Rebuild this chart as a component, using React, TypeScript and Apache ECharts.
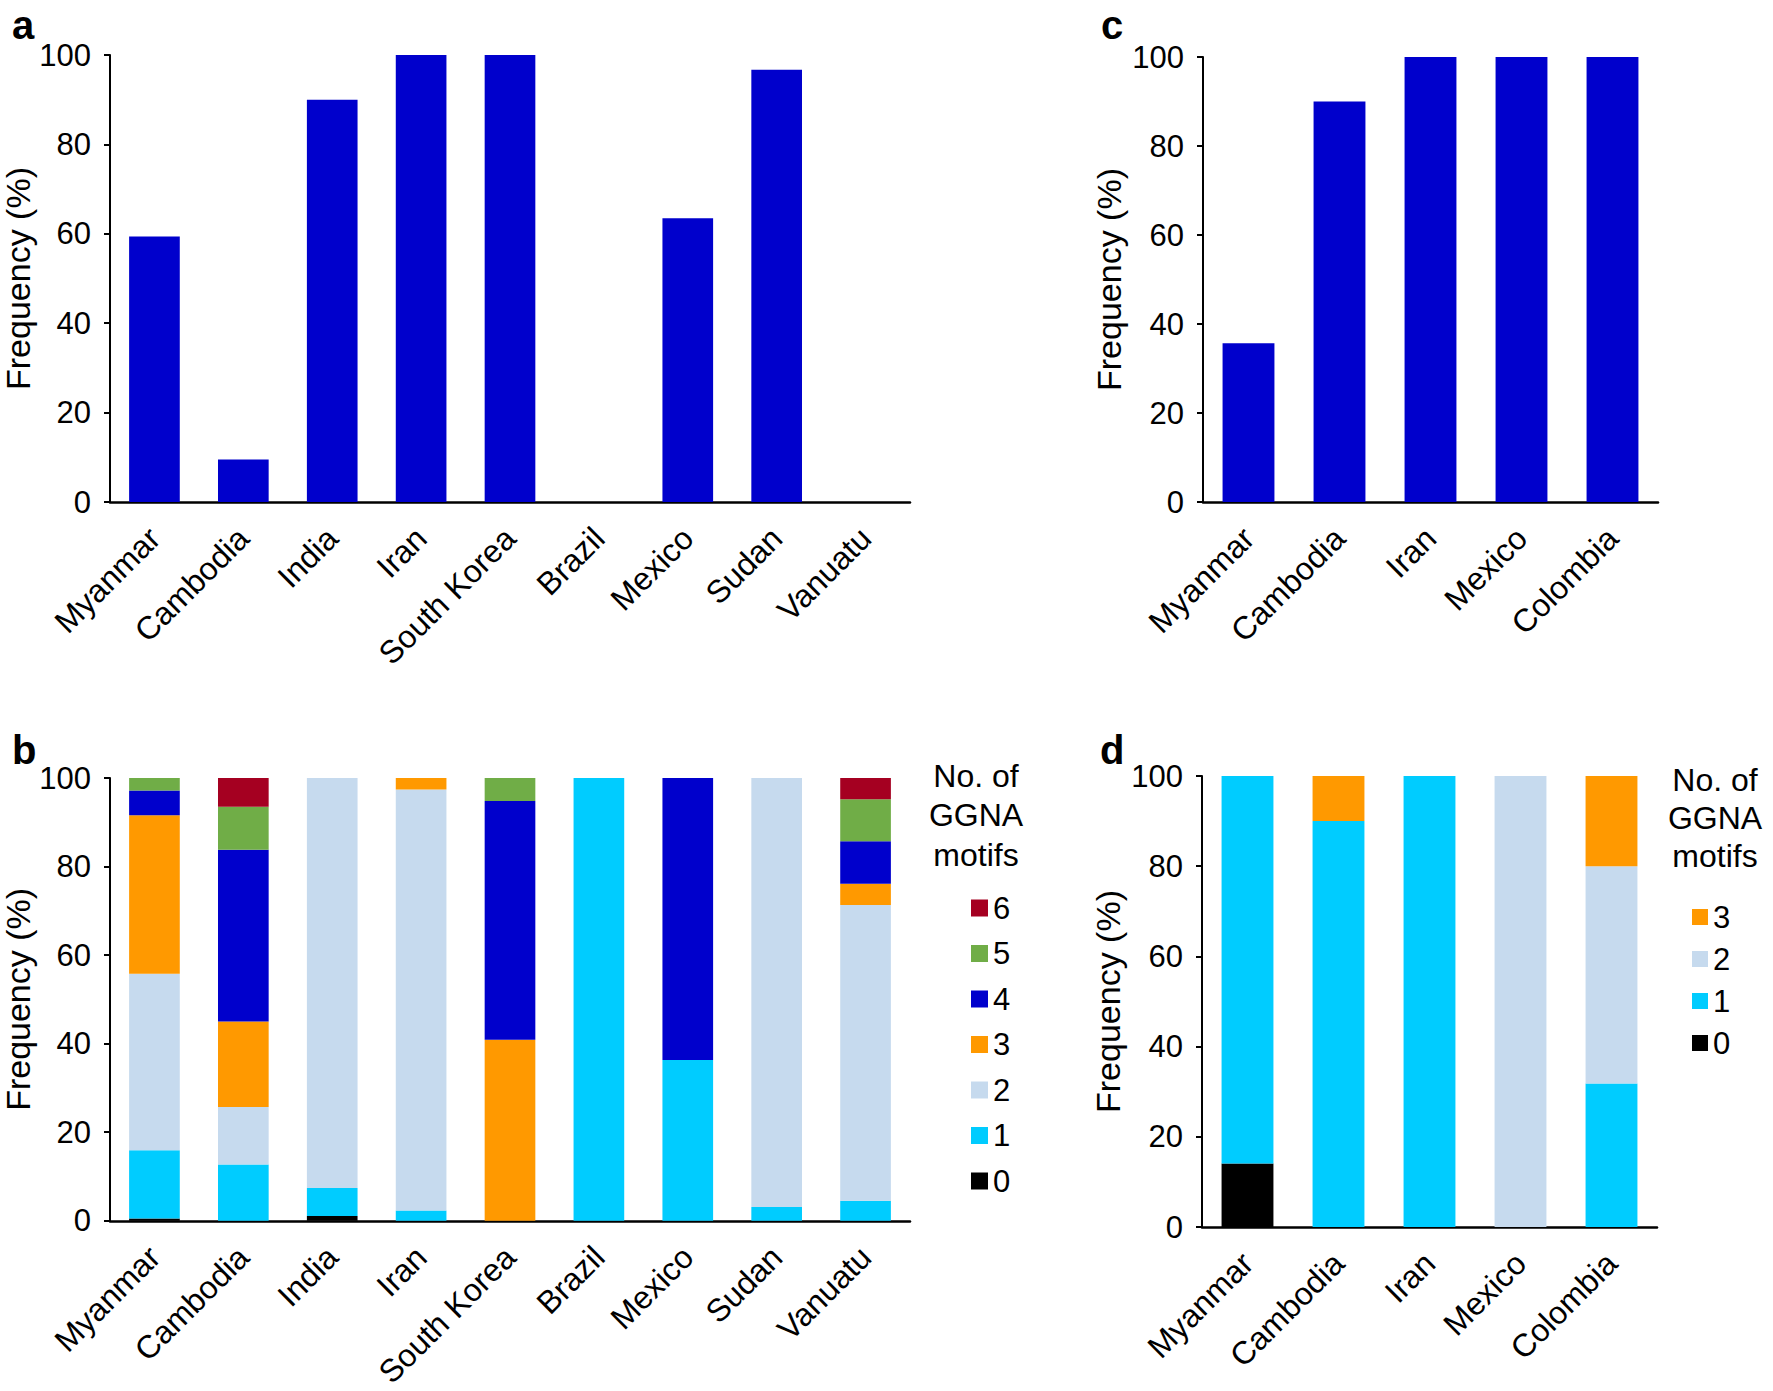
import React, { useEffect, useRef } from "react";
import * as echarts from "echarts";

const FONT = "Liberation Sans, Arial, sans-serif";

// Panel a / b categories
const catsAB = ["Myanmar", "Cambodia", "India", "Iran", "South Korea", "Brazil", "Mexico", "Sudan", "Vanuatu"];
// Panel c / d categories
const catsCD = ["Myanmar", "Cambodia", "Iran", "Mexico", "Colombia"];

// Panel a values (%)
const freqA = [59.4, 9.5, 90, 100, 100, 0, 63.5, 96.7, 0];
// Panel c values (%)
const freqC = [35.7, 90, 100, 100, 100];

// Panel b: No. of GGNA motifs (stack segments, %)
const b0 = [0.5, 0, 1.1, 0, 0, 0, 0, 0, 0];
const b1 = [15.4, 12.7, 6.3, 2.3, 0, 100, 36.3, 3.1, 4.5];
const b2 = [39.9, 13.0, 92.6, 95.1, 0, 0, 0, 96.9, 66.8];
const b3 = [35.8, 19.3, 0, 2.6, 40.9, 0, 0, 0, 4.8];
const b4 = [5.6, 38.8, 0, 0, 53.9, 0, 63.7, 0, 9.6];
const b5 = [2.8, 9.7, 0, 0, 5.2, 0, 0, 0, 9.5];
const b6 = [0, 6.5, 0, 0, 0, 0, 0, 0, 4.8];

// Panel d segments (%)
const d0 = [14.1, 0, 0, 0, 0];
const d1 = [85.9, 90, 100, 0, 31.8];
const d2 = [0, 0, 0, 100, 48.2];
const d3 = [0, 10, 0, 0, 20];

const yTicks = [0, 20, 40, 60, 80, 100];

const motifColors: Record<string, string> = {
  "0": "#000000",
  "1": "#00CCFF",
  "2": "#C6DAEE",
  "3": "#FF9900",
  "4": "#0000CC",
  "5": "#70AD47",
  "6": "#A50021",
};
const BAR_BLUE = "#0000CC";

function yAxis(gridIndex: number, gap: number) {
  return {
    type: "value",
    gridIndex,
    min: yTicks[0],
    max: yTicks[yTicks.length - 1],
    interval: yTicks[1] - yTicks[0],
    name: "Frequency (%)",
    nameLocation: "middle",
    nameRotate: 90,
    nameGap: gap,
    nameTextStyle: { fontSize: 34, color: "#000", fontFamily: FONT },
    axisLine: { show: true, lineStyle: { color: "#000", width: 2 } },
    axisTick: { show: true, length: 6, lineStyle: { color: "#000", width: 2 } },
    axisLabel: { fontSize: 31, color: "#000", margin: 19, fontFamily: FONT },
    splitLine: { show: false },
  };
}

function xAxis(gridIndex: number, data: string[]) {
  return {
    type: "category",
    gridIndex,
    data,
    axisLine: { show: true, lineStyle: { color: "#000", width: 2.5 } },
    axisTick: { show: false },
    axisLabel: {
      interval: 0,
      rotate: 45,
      fontSize: 32,
      color: "#000",
      fontFamily: FONT,
      margin: 31,
    },
    splitLine: { show: false },
  };
}

export default function App() {
  const ref = useRef<HTMLDivElement>(null);

  useEffect(() => {
    document.body.style.margin = "0";
    if (!ref.current) return;
    const chart = echarts.init(ref.current, undefined, { renderer: "svg" });

    const bSeries = [
      ["0", b0],
      ["1", b1],
      ["2", b2],
      ["3", b3],
      ["4", b4],
      ["5", b5],
      ["6", b6],
    ].map(([name, data]) => ({
      type: "bar",
      name: name as string,
      stack: "b",
      xAxisIndex: 2,
      yAxisIndex: 2,
      barWidth: "57%",
      data: data as number[],
      itemStyle: { color: motifColors[name as string] },
    }));

    const dSeries = [
      ["0", d0],
      ["1", d1],
      ["2", d2],
      ["3", d3],
    ].map(([name, data]) => ({
      type: "bar",
      name: name as string,
      stack: "d",
      xAxisIndex: 3,
      yAxisIndex: 3,
      barWidth: "57%",
      data: data as number[],
      itemStyle: { color: motifColors[name as string] },
    }));

    const letter = (t: string, x: number, y: number) => ({
      type: "text",
      left: x,
      top: y,
      style: { text: t, font: `bold 40px ${FONT}`, fill: "#000" },
    });

    const legendTitle = (x: number, y: number, lh: number) => ({
      type: "text",
      x,
      y,
      style: {
        text: "No. of\nGGNA\nmotifs",
        font: `32px ${FONT}`,
        fill: "#000",
        align: "center",
        verticalAlign: "middle",
        lineHeight: lh,
      },
    });

    chart.setOption({
      animation: false,
      backgroundColor: "#fff",
      grid: [
        { left: 110, top: 55, width: 800, height: 447 },
        { left: 1203, top: 57, width: 455, height: 445 },
        { left: 110, top: 778, width: 800, height: 448 },
        { left: 1202, top: 776, width: 455, height: 451 },
      ],
      xAxis: [xAxis(0, catsAB), xAxis(1, catsCD), xAxis(2, catsAB), xAxis(3, catsCD)],
      yAxis: [yAxis(0, 72), yAxis(1, 77), yAxis(2, 72), yAxis(3, 77)],
      legend: [
        {
          data: ["6", "5", "4", "3", "2", "1", "0"],
          orient: "vertical",
          left: 966,
          top: 887,
          itemWidth: 17,
          itemHeight: 17,
          itemGap: 13.5,
          icon: "rect",
          selectedMode: false,
          textStyle: { fontSize: 31, color: "#000", fontFamily: FONT, lineHeight: 32 },
        },
        {
          data: ["3", "2", "1", "0"],
          orient: "vertical",
          left: 1687,
          top: 896,
          itemWidth: 16,
          itemHeight: 16,
          itemGap: 10,
          icon: "rect",
          selectedMode: false,
          textStyle: { fontSize: 31, color: "#000", fontFamily: FONT, lineHeight: 32 },
        },
      ],
      graphic: [
        letter("a", 12, 5),
        letter("c", 1101, 5),
        letter("b", 12, 730),
        letter("d", 1100, 730),
        legendTitle(976, 815, 39.5),
        legendTitle(1715, 818, 38),
      ],
      series: [
        {
          type: "bar",
          name: "a",
          xAxisIndex: 0,
          yAxisIndex: 0,
          barWidth: "57%",
          data: freqA,
          itemStyle: { color: BAR_BLUE },
        },
        {
          type: "bar",
          name: "c",
          xAxisIndex: 1,
          yAxisIndex: 1,
          barWidth: "57%",
          data: freqC,
          itemStyle: { color: BAR_BLUE },
        },
        ...bSeries,
        ...dSeries,
      ],
    });

    return () => chart.dispose();
  }, []);

  return <div ref={ref} style={{ width: 1773, height: 1391 }} />;
}
